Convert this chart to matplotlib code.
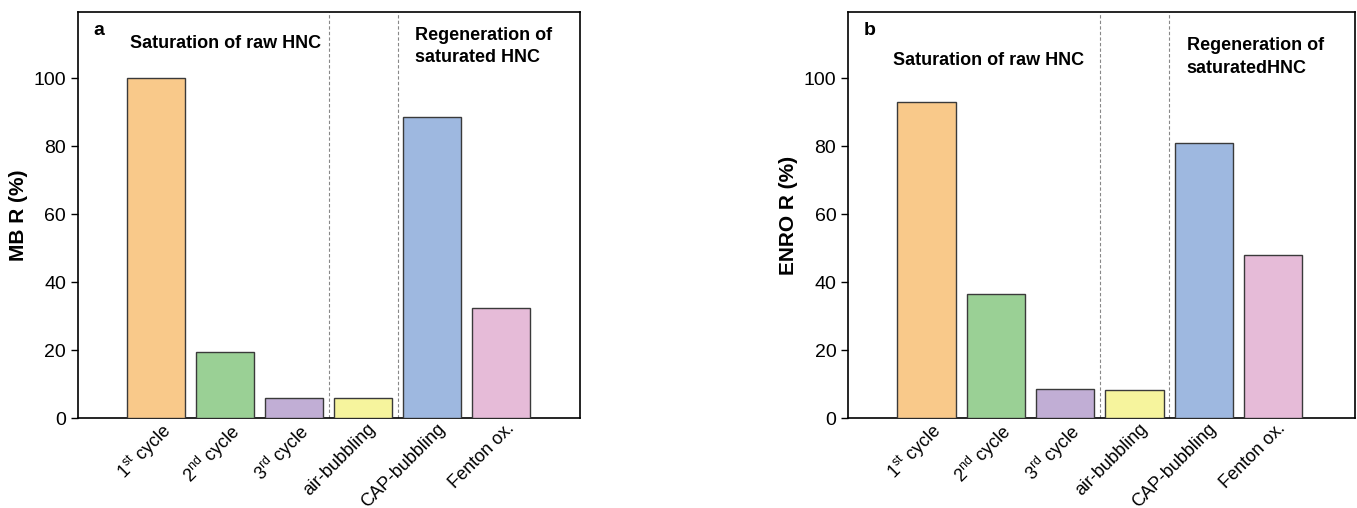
import matplotlib
matplotlib.use("Agg")
import matplotlib.pyplot as plt
import matplotlib.transforms as mtransforms

plt.rcParams.update({
    "font.family": ["Liberation Sans Narrow", "Liberation Sans", "DejaVu Sans"],
    "mathtext.default": "regular",
    "axes.linewidth": 1.2,
})

categories = ["1$^{st}$ cycle", "2$^{nd}$ cycle", "3$^{rd}$ cycle",
              "air-bubbling", "CAP-bubbling", "Fenton ox."]
mb_removal = [100.0, 19.5, 5.8, 5.8, 88.7, 32.4]
enro_removal = [93.2, 36.4, 8.7, 8.3, 81.1, 48.1]
bar_colors = ["#F9C98A", "#9AD095", "#C1AED5", "#F6F49D", "#9EB8E0", "#E6BBD8"]
yticks = [0, 20, 40, 60, 80, 100]

fig = plt.figure(figsize=(13.57, 5.08), dpi=100)
ax_a = fig.add_axes([0.0575, 0.177, 0.370, 0.799])
ax_b = fig.add_axes([0.625, 0.177, 0.3736, 0.799])


def draw_panel(ax, values, ylabel, letter, regen_text, sat_x, sat_y, regen_y, xlim_right):
    x = range(len(values))
    ax.bar(x, values, width=0.84, color=bar_colors, edgecolor="#3a3a3a", linewidth=1.0, zorder=3)
    for xv in (2.5, 3.5):
        ax.axvline(xv, color="#888888", linestyle=(0, (3, 2)), linewidth=0.8, zorder=1)
    ax.set_xlim(-1.13, xlim_right)
    ax.set_ylim(0, 119.5)
    ax.set_yticks(yticks)
    ax.tick_params(axis="y", direction="out", length=5, width=1, labelsize=14)
    ax.tick_params(axis="x", length=0, labelsize=13)
    ax.set_xticks(list(x))
    ax.set_xticklabels(categories, rotation=45, ha="right", rotation_mode="anchor")
    offset = mtransforms.ScaledTranslation(0.04, 0.03, fig.dpi_scale_trans)
    for lbl in ax.get_xticklabels():
        lbl.set_transform(lbl.get_transform() + offset)
    ax.set_ylabel(ylabel, fontsize=15, fontweight="bold", family="Liberation Sans", labelpad=4)
    ax.text(0.03, 0.975, letter, transform=ax.transAxes, fontsize=14, fontweight="bold",
            family="Liberation Sans", va="top", ha="left")
    ax.text(sat_x, sat_y, "Saturation of raw HNC", fontsize=13, fontweight="bold",
            va="center", ha="left")
    ax.text(3.75, regen_y, regen_text, fontsize=13, fontweight="bold",
            va="center", ha="left", linespacing=1.4)


draw_panel(ax_a, mb_removal, "MB R (%)", "a", "Regeneration of\nsaturated HNC",
           -0.38, 110.3, 109.4, 6.14)
draw_panel(ax_b, enro_removal, "ENRO R (%)", "b", "Regeneration of\nsaturatedHNC",
           -0.49, 105.3, 106.3, 6.18)

fig.savefig("out.png", dpi=100)
